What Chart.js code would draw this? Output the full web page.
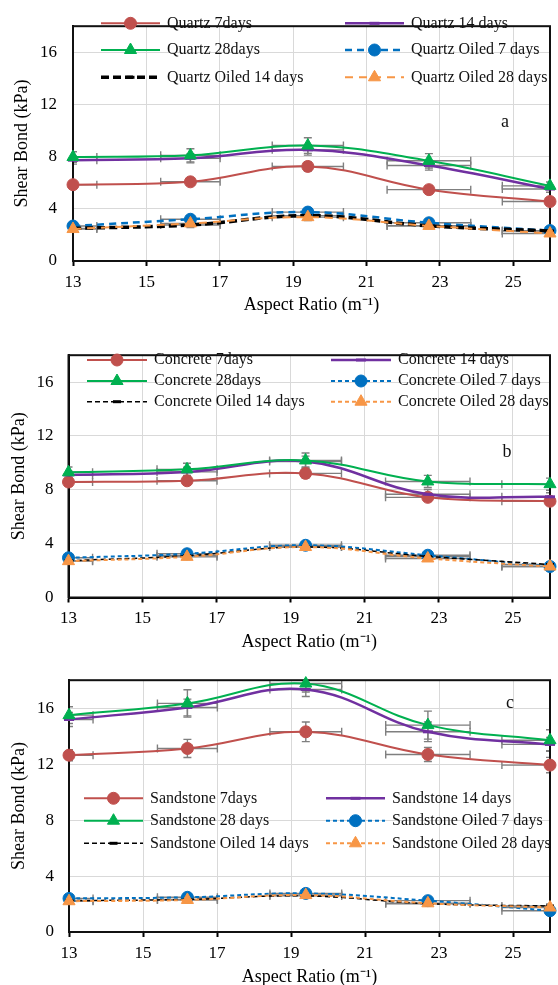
<!DOCTYPE html>
<html>
<head>
<meta charset="utf-8">
<title>Shear Bond vs Aspect Ratio</title>
<script src="https://cdn.jsdelivr.net/npm/chart.js@4/dist/chart.umd.min.js"></script>
<style>
  html, body { margin: 0; padding: 0; background: #fff; }
  #wrap { position: relative; width: 558px; height: 985px; overflow: hidden; }
  canvas { position: absolute; left: 0; }
</style>
</head>
<body>
<div id="wrap">
  <canvas id="chartA" width="558" height="325" style="top:0px"></canvas>
  <canvas id="chartB" width="558" height="325" style="top:330px"></canvas>
  <canvas id="chartC" width="558" height="330" style="top:655px"></canvas>
</div>
<script>
const FONT = "'Liberation Serif', 'Times New Roman', serif";

// x values and horizontal error (shared by every series)
const aspectRatio = [13, 16.2, 19.4, 22.7, 26];
const aspectRatioErr = [0.65, 0.81, 0.97, 1.14, 1.3];
const xTickValues = [13, 15, 17, 19, 21, 23, 25];
const yTickValues = [0, 4, 8, 12, 16];

// panel a - quartz
const quartzLabels = ["Quartz 7days", "Quartz 14 days", "Quartz 28days",
  "Quartz Oiled 7 days", "Quartz Oiled 14 days", "Quartz Oiled 28 days"];
const quartz7 = [5.85, 6.07, 7.25, 5.47, 4.56];
const quartz14 = [7.73, 7.87, 8.52, 7.32, 5.52];
const quartz28 = [7.97, 8.1, 8.85, 7.68, 5.76];
const quartzOiled7 = [2.68, 3.2, 3.75, 2.93, 2.33];
const quartzOiled14 = [2.5, 2.76, 3.48, 2.7, 2.3];
const quartzOiled28 = [2.45, 2.88, 3.36, 2.69, 2.11];
const quartz7Err = [0.2, 0.25, 0.35, 0.3, 0.2];
const quartz14Err = [0.3, 0.35, 0.4, 0.35, 0.25];
const quartz28Err = [0.4, 0.5, 0.6, 0.55, 0.3];
const quartzOiled7Err = [0.15, 0.2, 0.25, 0.2, 0.15];
const quartzOiled14Err = [0.15, 0.2, 0.2, 0.15, 0.15];
const quartzOiled28Err = [0.15, 0.2, 0.25, 0.2, 0.15];

// panel b - concrete
const concreteLabels = ["Concrete 7days", "Concrete 14 days", "Concrete 28days",
  "Concrete Oiled 7 days", "Concrete Oiled 14 days", "Concrete Oiled 28 days"];
const concrete7 = [8.58, 8.67, 9.22, 7.44, 7.15];
const concrete14 = [9.1, 9.33, 10.1, 7.67, 7.48];
const concrete28 = [9.3, 9.52, 10.18, 8.62, 8.42];
const concreteOiled7 = [2.95, 3.25, 3.88, 3.14, 2.3];
const concreteOiled14 = [2.73, 3.1, 3.76, 3.05, 2.45];
const concreteOiled28 = [2.7, 3.02, 3.75, 2.9, 2.3];
const concrete7Err = [0.3, 0.3, 0.35, 0.3, 0.3];
const concrete14Err = [0.3, 0.35, 0.4, 0.35, 0.3];
const concrete28Err = [0.4, 0.45, 0.55, 0.45, 0.45];
const concreteOiled7Err = [0.15, 0.2, 0.2, 0.2, 0.15];
const concreteOiled14Err = [0.15, 0.2, 0.2, 0.15, 0.15];
const concreteOiled28Err = [0.15, 0.2, 0.2, 0.2, 0.15];

// panel c - sandstone
const sandstoneLabels = ["Sandstone 7days", "Sandstone 14 days", "Sandstone 28 days",
  "Sandstone Oiled 7 days", "Sandstone Oiled 14 days", "Sandstone Oiled 28 days"];
const sandstone7 = [12.64, 13.12, 14.31, 12.69, 11.93];
const sandstone14 = [15.19, 16.05, 17.34, 14.31, 13.41];
const sandstone28 = [15.5, 16.34, 17.76, 14.79, 13.71];
const sandstoneOiled7 = [2.4, 2.48, 2.76, 2.24, 1.52];
const sandstoneOiled14 = [2.24, 2.33, 2.58, 2.02, 1.86];
const sandstoneOiled28 = [2.2, 2.29, 2.64, 2.05, 1.75];
const sandstone7Err = [0.4, 0.65, 0.7, 0.5, 0.55];
const sandstone14Err = [0.5, 0.6, 0.5, 0.7, 0.5];
const sandstone28Err = [0.6, 0.98, 0.6, 1.0, 0.75];
const sandstoneOiled7Err = [0.15, 0.15, 0.2, 0.15, 0.15];
const sandstoneOiled14Err = [0.15, 0.15, 0.15, 0.15, 0.15];
const sandstoneOiled28Err = [0.15, 0.15, 0.2, 0.15, 0.15];

const baseStyles = [
  { color: "#c0504d", point: "circle", radius: 6, pointWidth: 1 },
  { color: "#7030a0", point: "line", radius: 5, pointWidth: 3 },
  { color: "#00b050", point: "triangle", radius: 7, pointWidth: 1 },
  { color: "#0070c0", point: "circle", radius: 6, pointWidth: 1 },
  { color: "#000000", point: "line", radius: 4, pointWidth: 3 },
  { color: "#f79646", point: "triangle", radius: 7, pointWidth: 1 },
];

const errorBarPlugin = {
  id: "errorBars",
  beforeDatasetsDraw(chart) {
    const { ctx, chartArea, scales: { x, y } } = chart;
    ctx.save();
    ctx.beginPath();
    ctx.rect(chartArea.left, chartArea.top, chartArea.width, chartArea.height);
    ctx.clip();
    ctx.strokeStyle = "#7f7f7f";
    ctx.lineWidth = 1.4;
    chart.data.datasets.forEach((ds) => {
      ds.data.forEach((pt, i) => {
        const px = x.getPixelForValue(pt.x);
        const py = y.getPixelForValue(pt.y);
        const xl = x.getPixelForValue(pt.x - ds.xErr[i]);
        const xr = x.getPixelForValue(pt.x + ds.xErr[i]);
        const yt = y.getPixelForValue(pt.y + ds.yErr[i]);
        const yb = y.getPixelForValue(pt.y - ds.yErr[i]);
        ctx.beginPath();
        ctx.moveTo(xl, py); ctx.lineTo(xr, py);
        ctx.moveTo(xl, py - 4); ctx.lineTo(xl, py + 4);
        ctx.moveTo(xr, py - 4); ctx.lineTo(xr, py + 4);
        ctx.moveTo(px, yt); ctx.lineTo(px, yb);
        ctx.moveTo(px - 4, yt); ctx.lineTo(px + 4, yt);
        ctx.moveTo(px - 4, yb); ctx.lineTo(px + 4, yb);
        ctx.stroke();
      });
    });
    ctx.restore();
    // plot frame
    ctx.save();
    ctx.strokeStyle = "#111";
    ctx.lineWidth = 2;
    ctx.strokeRect(chartArea.left, chartArea.top, chartArea.width, chartArea.height);
    ctx.restore();
  },
};

const boxLegendPlugin = {
  id: "boxLegend",
  afterDraw(chart, args, opts) {
    const { ctx } = chart;
    ctx.save();
    ctx.font = "16px " + FONT;
    ctx.textBaseline = "middle";
    chart.data.datasets.forEach((ds, i) => {
      const x0 = opts.cols[i % 2];
      const y0 = opts.rows[Math.floor(i / 2)];
      ctx.strokeStyle = ds.borderColor;
      ctx.lineWidth = ds.borderWidth;
      ctx.setLineDash(ds.borderDash || []);
      ctx.beginPath();
      ctx.moveTo(x0, y0);
      ctx.lineTo(x0 + opts.lineLen, y0);
      ctx.stroke();
      ctx.setLineDash([]);
      ctx.fillStyle = ds.pointBackgroundColor;
      ctx.strokeStyle = ds.pointBorderColor;
      ctx.lineWidth = ds.pointBorderWidth;
      Chart.helpers.drawPoint(ctx, {
        pointStyle: ds.pointStyle, radius: ds.pointRadius,
        borderWidth: ds.pointBorderWidth, rotation: 0,
      }, x0 + opts.lineLen / 2, y0);
      ctx.fillStyle = "#111";
      ctx.fillText(ds.label, x0 + opts.lineLen + 7, y0);
    });
    ctx.font = "18px " + FONT;
    ctx.textAlign = "center";
    ctx.fillText(opts.tag, opts.tagX, opts.tagY);
    ctx.restore();
  },
};

function makeChart(canvasId, labels, series, errs, p) {
  const datasets = series.map((vals, i) => {
    const st = baseStyles[i];
    return {
      label: labels[i],
      data: vals.map((v, j) => ({ x: aspectRatio[j], y: v })),
      xErr: aspectRatioErr,
      yErr: errs[i],
      borderColor: st.color,
      backgroundColor: st.color,
      borderWidth: p.widths[i],
      borderDash: p.dashes[i],
      pointStyle: st.point,
      pointRadius: st.radius,
      pointBackgroundColor: st.color,
      pointBorderColor: st.color,
      pointBorderWidth: st.pointWidth,
      tension: 0.4,
      fill: false,
      clip: false,
      order: series.length - i,
    };
  });

  return new Chart(document.getElementById(canvasId), {
    type: "line",
    data: { datasets },
    options: {
      responsive: false,
      animation: false,
      layout: { padding: { top: p.top, right: 5, bottom: p.bottom, left: 0 } },
      plugins: {
        legend: { display: false },
        tooltip: { enabled: false },
        boxLegend: p.legend,
      },
      scales: {
        x: {
          type: "linear",
          min: 13,
          max: 26,
          afterBuildTicks: (s) => { s.ticks = xTickValues.map((v) => ({ value: v })); },
          afterFit: (s) => { s.height = p.xHeight; },
          grid: { color: "#d9d9d9", lineWidth: 1, tickColor: "#000", tickLength: 5, tickWidth: 2 },
          border: { color: "#000", width: 2 },
          ticks: { color: "#000", font: { family: FONT, size: 17 }, padding: 6, maxRotation: 0, autoSkip: false },
          title: {
            display: true, text: "Aspect Ratio (m\u207B\u00B9)", color: "#000",
            font: { family: FONT, size: 18 }, padding: { top: 0, bottom: p.xTitlePad },
          },
        },
        y: {
          min: 0,
          max: 18,
          afterBuildTicks: (s) => { s.ticks = yTickValues.map((v) => ({ value: v })); },
          afterFit: (s) => { s.width = p.yWidth; },
          grid: { color: "#d9d9d9", lineWidth: 1, drawTicks: false },
          border: { color: "#000", width: 2 },
          ticks: { color: "#000", font: { family: FONT, size: 17 }, padding: p.yTickPad },
          title: {
            display: true, text: "Shear Bond (kPa)", color: "#000",
            font: { family: FONT, size: 18 }, padding: { top: p.yTitlePad, bottom: 0 },
          },
        },
      },
    },
    plugins: [errorBarPlugin, boxLegendPlugin],
  });
}

const panelA = makeChart("chartA", quartzLabels,
  [quartz7, quartz14, quartz28, quartzOiled7, quartzOiled14, quartzOiled28],
  [quartz7Err, quartz14Err, quartz28Err, quartzOiled7Err, quartzOiled14Err, quartzOiled28Err],
  {
    top: 10, bottom: 10, xHeight: 54, xTitlePad: -1, yWidth: 73, yTickPad: 16, yTitlePad: 11,
    widths: [2, 2.5, 2, 2.5, 3.5, 2],
    dashes: [[], [], [], [7, 5], [8, 4], [8, 6]],
    legend: { cols: [101, 345], rows: [23.3, 50, 77.3], lineLen: 59, tag: "a", tagX: 505, tagY: 122 },
  });

const panelB = makeChart("chartB", concreteLabels,
  [concrete7, concrete14, concrete28, concreteOiled7, concreteOiled14, concreteOiled28],
  [concrete7Err, concrete14Err, concrete28Err, concreteOiled7Err, concreteOiled14Err, concreteOiled28Err],
  {
    top: 15, bottom: 3, xHeight: 54.5, xTitlePad: -1, yWidth: 68.5, yTickPad: 15, yTitlePad: 8.8,
    widths: [2, 2.5, 2, 2, 1.5, 2],
    dashes: [[], [], [], [4, 3], [5, 3], [4, 3]],
    legend: { cols: [87, 331], rows: [30, 51, 71.7], lineLen: 60, tag: "b", tagX: 507, tagY: 122 },
  });

const panelC = makeChart("chartC", sandstoneLabels,
  [sandstone7, sandstone14, sandstone28, sandstoneOiled7, sandstoneOiled14, sandstoneOiled28],
  [sandstone7Err, sandstone14Err, sandstone28Err, sandstoneOiled7Err, sandstoneOiled14Err, sandstoneOiled28Err],
  {
    top: 25, bottom: 0, xHeight: 53, xTitlePad: -3, yWidth: 69, yTickPad: 15, yTitlePad: 8.8,
    widths: [2, 2.5, 2, 2, 1.5, 2],
    dashes: [[], [], [], [4, 3], [5, 3], [4, 3]],
    legend: { cols: [84, 326], rows: [143.3, 165.7, 188.3], lineLen: 59, tag: "c", tagX: 510, tagY: 48 },
  });
</script>
</body>
</html>
